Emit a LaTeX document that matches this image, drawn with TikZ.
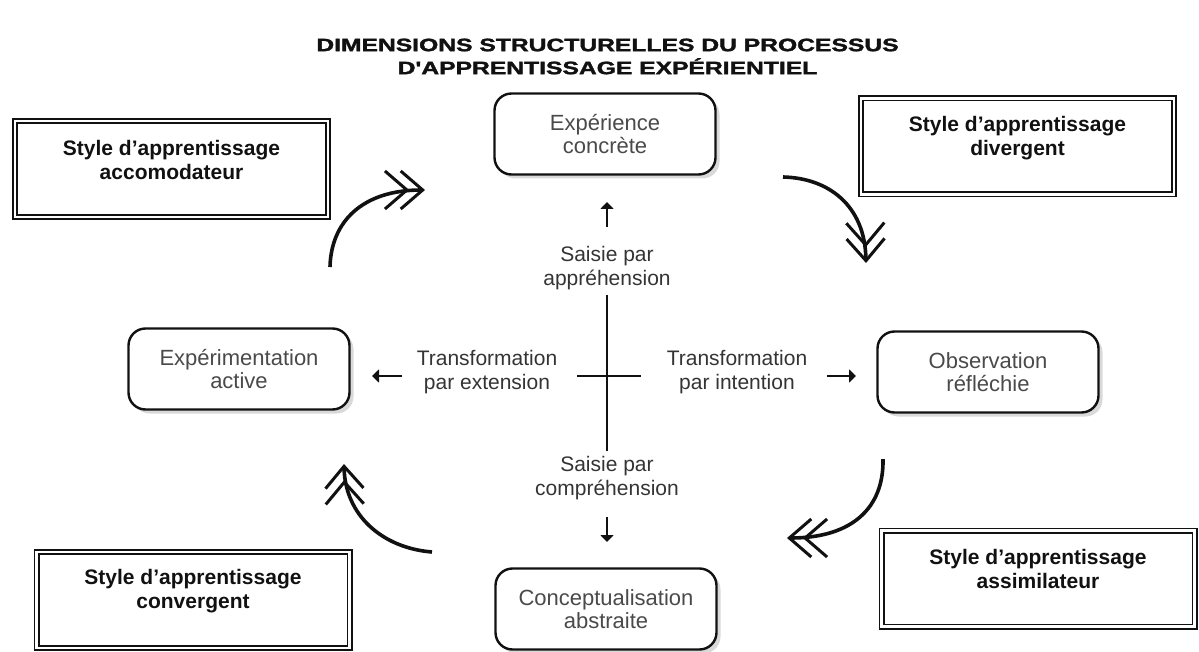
\documentclass[tikz,border=0pt]{standalone}
\usepackage{fontspec}
\setmainfont{Liberation Sans}
\newfontfamily\titlefont[FakeBold=1.6]{Liberation Sans Bold}
\usetikzlibrary{arrows.meta,shadows}
\definecolor{boxgray}{HTML}{4A4A4A}
\definecolor{ink}{HTML}{111111}
\begin{document}
\begin{tikzpicture}[x=1pt,y=-1pt,
  rbox/.style={draw=ink, fill=white, line width=2.4pt, rounded corners=17pt,
    minimum width=221pt, minimum height=81pt, inner sep=0pt,
    text=boxgray, font=\fontsize{22}{23.5}\selectfont, align=center,
    drop shadow={shadow xshift=4pt, shadow yshift=-4pt, opacity=0.15, fill=black}},
  dbox/.style={draw=ink, double=white, double distance=2.6pt, line width=1.7pt,
    minimum width=313pt, minimum height=96pt, inner sep=0pt},
  dtext/.style={text=ink, font=\bfseries\fontsize{21}{24}\selectfont, align=center},
  lbl/.style={text=boxgray!70!black, font=\fontsize{21}{24}\selectfont, align=center},
  cycarrow/.style={draw=ink, line width=3.6pt,
    -{Straight Barb[length=22pt,width=38pt,line width=3pt,sep=-10pt]Straight Barb[length=22pt,width=38pt,line width=3pt]}},
  smallarrow/.style={draw=ink, line width=2pt, -{Triangle[length=7pt,width=13pt]}},
  axisline/.style={draw=ink, line width=2.2pt}
]
\useasboundingbox (0,0) rectangle (1199,652);

% title
\node[font=\titlefont\fontsize{18}{23}\selectfont, text=ink, align=center] (title) at (607.5,56.5)
  {\scalebox{1.37}[1]{DIMENSIONS STRUCTURELLES DU PROCESSUS}\\
   \scalebox{1.37}[1]{D\textquotesingle APPRENTISSAGE EXPÉRIENTIEL}};

% rounded boxes
\node[rbox] (exp) at (605,134) {Expérience\\concrète};
\node[rbox] (act) at (239,369) {Expérimentation\\active};
\node[rbox] (obs) at (988,372) {Observation\\réfléchie};
\node[rbox] (con) at (606,609) {Conceptualisation\\abstraite};

% double boxes
\node[dbox] (acc) at (171.5,169) {};
\node[dtext] (acct) at ([yshift=9pt]acc.center) {Style d’apprentissage\\accomodateur};
\node[dbox] (div) at (1017.5,146.5) {};
\node[dtext] (divt) at ([yshift=8.5pt]div.center) {Style d’apprentissage\\divergent};
\node[dbox] (ass) at (1038,578.5) {};
\node[dtext] (asst) at ([yshift=10pt]ass.center) {Style d’apprentissage\\assimilateur};
\node[dbox] (cvg) at (193,600) {};
\node[dtext] (cvgt) at ([yshift=8.5pt]cvg.center) {Style d’apprentissage\\convergent};

% labels
\node[lbl] (sa) at (607,268) {Saisie par\\appréhension};
\node[lbl] (sc) at (607,478) {Saisie par\\compréhension};
\node[lbl] (te) at (487,372) {Transformation\\par extension};
\node[lbl] (ti) at (737,372) {Transformation\\par intention};

% cross
\coordinate (vt) at (607,295);
\coordinate (vb) at (607,451);
\coordinate (hl) at (577,376);
\coordinate (hr) at (641,376);
\draw[axisline] (vt) -- (vb);
\draw[axisline] (hl) -- (hr);

% small arrows
\coordinate (u1) at (607,227); \coordinate (u2) at (607,202);
\coordinate (d1) at (607,517); \coordinate (d2) at (607,542);
\coordinate (l1) at (402,376); \coordinate (l2) at (372,376);
\coordinate (r1) at (827,376); \coordinate (r2) at (856,376);
\draw[smallarrow] (u1) -- (u2);
\draw[smallarrow] (d1) -- (d2);
\draw[smallarrow] (l1) -- (l2);
\draw[smallarrow] (r1) -- (r2);

% cycle arrows
\coordinate (a1s) at (330,267); \coordinate (a1e) at (425,190);
\coordinate (a2s) at (783,177); \coordinate (a2e) at (866,263);
\coordinate (a3s) at (883,459); \coordinate (a3e) at (787,538);
\coordinate (a4s) at (432,552); \coordinate (a4e) at (344,464);
\draw[cycarrow] (a1s) .. controls (331,222) and (362,190) .. (a1e);
\draw[cycarrow] (a2s) .. controls (828,178) and (865,205) .. (a2e);
\draw[cycarrow] (a3s) .. controls (884,508) and (852,538) .. (a3e);
\draw[cycarrow] (a4s) .. controls (382,548) and (345,515) .. (a4e);
\end{tikzpicture}
\end{document}
